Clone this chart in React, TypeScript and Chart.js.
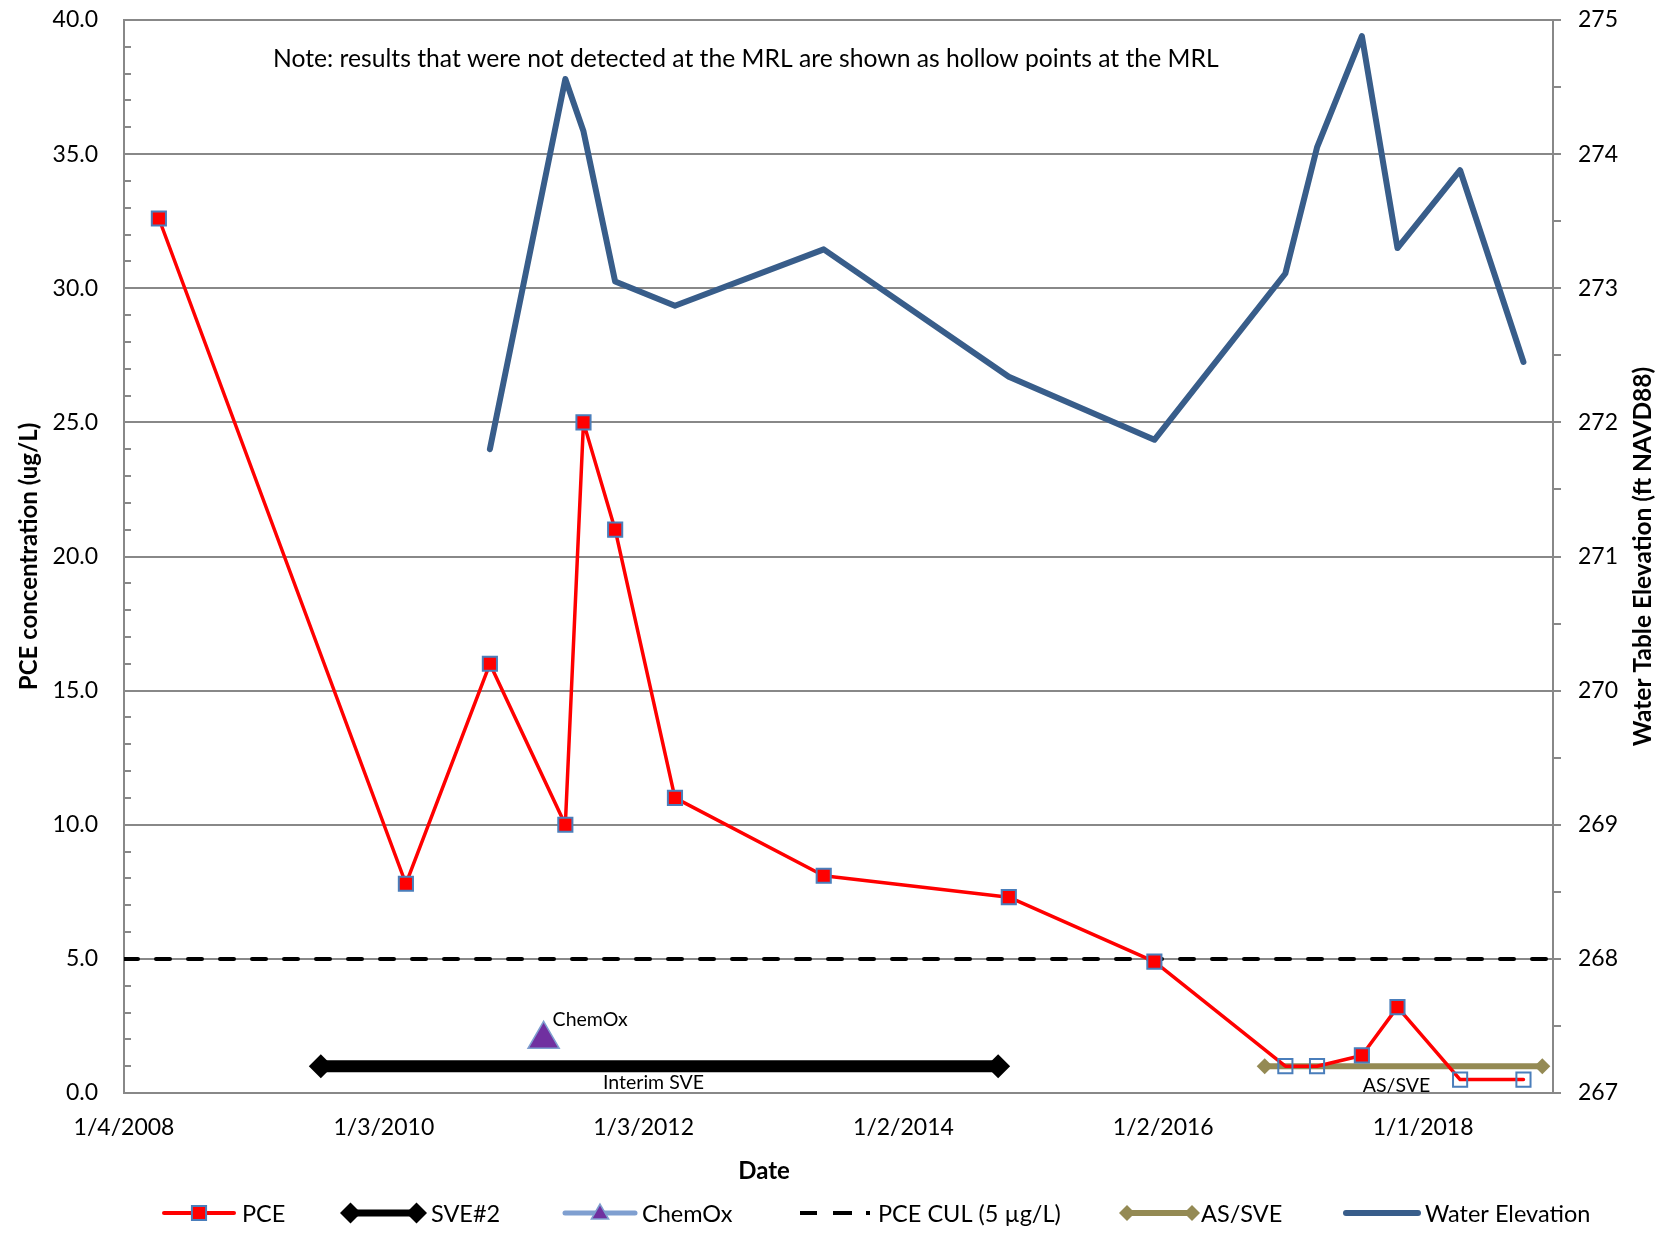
import React, { useEffect, useRef } from 'react';
import { Chart, registerables } from 'chart.js';
import { drawPoint } from 'chart.js/helpers';

Chart.register(...registerables);

// ---------------- data ----------------
const sampleDates = [
  '2008-04-11', '2010-03-06', '2010-10-28', '2011-05-28', '2011-07-18', '2011-10-15',
  '2012-03-31', '2013-05-23', '2014-10-25', '2015-12-08', '2016-12-10', '2017-03-09',
  '2017-07-13', '2017-10-21', '2018-04-15', '2018-10-10',
];
const pceValues = [32.6, 7.8, 16.0, 10.0, 25.0, 21.0, 11.0, 8.1, 7.3, 4.9, 1.0, 1.0, 1.4, 3.2, 0.5, 0.5];
const pceNonDetect = [false, false, false, false, false, false, false, false, false, false, true, true, false, false, true, true];
const waterElevation = [null, null, 271.80, 274.56, 274.17, 273.05, 272.87, 273.29, 272.34, 271.87, 273.11, 274.05, 274.88, 273.30, 273.88, 272.45];

const sveDates = ['2009-07-10', '2014-09-25'];
const sveValues = [1, 1];
const chemOxDates = ['2011-03-28'];
const chemOxValues = [2.0];
const culDates = ['2008-01-04', '2019-01-01'];
const culValues = [5, 5];
const asSveDates = ['2016-10-13', '2018-12-02'];
const asSveValues = [1, 1];

const xTickLabels = ['1/4/2008', '1/3/2010', '1/3/2012', '1/2/2014', '1/2/2016', '1/1/2018'];
const xAxisRange = ['2008-01-04', '2019-01-01'];
const leftAxisRange = [0, 40];
const rightAxisRange = [267, 275];

const NOTE_TEXT = 'Note: results that were not detected at the MRL are shown as hollow points at the MRL';
const LEFT_TITLE = 'PCE concentration (ug/L)';
const RIGHT_TITLE = 'Water Table Elevation (ft NAVD88)';
const X_TITLE = 'Date';
const SVE_LABEL = 'Interim SVE';
const CHEMOX_LABEL = 'ChemOx';
const ASSVE_LABEL = 'AS/SVE';

// ---------------- helpers ----------------
const DAY = 86400000;
const isoDay = (s: string) => {
  const [y, m, d] = s.split('-').map(Number);
  return Date.UTC(y, m - 1, d) / DAY;
};
const mdyDay = (s: string) => {
  const [m, d, y] = s.split('/').map(Number);
  return Date.UTC(y, m - 1, d) / DAY;
};
const pts = (dates: string[], vals: (number | null)[]) =>
  dates.map((d, i) => ({ x: isoDay(d), y: vals[i] })).filter((p) => p.y !== null);

// ---------------- styles ----------------
const FONT = 'Lato';
const GRID = '#888888';
const RED = '#FF0000';
const MARK_BORDER = '#4A7EBB';
const PURPLE = '#7030A0';
const CHEM_LINE = '#7F9FD0';
const OLIVE = '#948A54';
const WATER = '#385D8A';

const LEGEND_X = [164, 340, 565, 800, 1119, 1346];
const LEGEND_W = [70, 87, 70, 71, 81, 72];
const LEGEND_GAP = [8, 4, 7, 7, 1, 7];
const LEGEND_Y = 1213;

function legendLine(ctx: CanvasRenderingContext2D, xa: number, xb: number, y: number, color: string, width: number, cap: CanvasLineCap = 'round') {
  ctx.save();
  ctx.strokeStyle = color;
  ctx.lineWidth = width;
  ctx.lineCap = cap;
  ctx.beginPath();
  ctx.moveTo(xa, y);
  ctx.lineTo(xb, y);
  ctx.stroke();
  ctx.restore();
}

function marker(ctx: CanvasRenderingContext2D, style: string, radius: number, x: number, y: number, fill: string, stroke: string, bw: number) {
  ctx.save();
  ctx.fillStyle = fill;
  ctx.strokeStyle = stroke;
  ctx.lineWidth = bw;
  drawPoint(ctx, { pointStyle: style as any, radius, borderWidth: bw, rotation: 0 } as any, x, y);
  ctx.restore();
}

const extrasPlugin = {
  id: 'excelExtras',
  beforeDatasetsDraw(chart: any) {
    const { ctx, chartArea: ca, scales } = chart;
    const y = scales.y;
    ctx.save();
    ctx.strokeStyle = GRID;
    ctx.lineWidth = 2;
    for (let v = y.min + 1; v < y.max; v += 1) {
      if (v % 5 === 0) continue;
      const py = Math.round(y.getPixelForValue(v));
      ctx.beginPath();
      ctx.moveTo(ca.left, py);
      ctx.lineTo(ca.left + 7, py);
      ctx.stroke();
    }
    ctx.restore();
  },
  afterDraw(chart: any) {
    const { ctx, chartArea: ca } = chart;
    ctx.save();
    ctx.fillStyle = '#000';
    ctx.textBaseline = 'middle';

    // note
    ctx.font = `24.7px ${FONT}`;
    ctx.textAlign = 'left';
    ctx.fillText(NOTE_TEXT, ca.left + 149, ca.top + 39);

    // annotation labels tied to the marks
    ctx.font = `19.5px ${FONT}`;
    const chem = chart.getDatasetMeta(2).data[0];
    ctx.textAlign = 'left';
    ctx.fillText(CHEMOX_LABEL, chem.x + 9, chem.y - 20);
    const sve = chart.getDatasetMeta(1).data;
    ctx.textAlign = 'center';
    ctx.fillText(SVE_LABEL, (sve[0].x + sve[1].x) / 2 - 6, sve[0].y + 17);
    const as = chart.getDatasetMeta(4).data;
    ctx.fillText(ASSVE_LABEL, (as[0].x + as[1].x) / 2 - 7, as[0].y + 20);

    // x title
    ctx.font = `bold 24px ${FONT}`;
    ctx.textAlign = 'center';
    ctx.fillText(X_TITLE, ca.left + 640, ca.bottom + 78);

    // right title (reads bottom to top)
    ctx.font = `bold 24.5px ${FONT}`;
    ctx.save();
    ctx.translate(ca.right + 90, (ca.top + ca.bottom) / 2);
    ctx.rotate(-Math.PI / 2);
    ctx.fillText(RIGHT_TITLE, 0, 0);
    ctx.restore();

    // legend
    const ds = chart.data.datasets;
    const y = LEGEND_Y;
    ds.forEach((d: any, i: number) => {
      const x0 = LEGEND_X[i];
      const w = LEGEND_W[i];
      if (i === 0) {
        legendLine(ctx, x0, x0 + w, y, RED, 4);
        marker(ctx, 'rect', 10, x0 + w / 2, y, RED, MARK_BORDER, 2);
      } else if (i === 1) {
        legendLine(ctx, x0 + 10.5, x0 + w - 10.5, y, '#000', 7, 'butt');
        marker(ctx, 'rectRot', 10.5, x0 + 10.5, y, '#000', '#000', 0);
        marker(ctx, 'rectRot', 10.5, x0 + w - 10.5, y, '#000', '#000', 0);
      } else if (i === 2) {
        legendLine(ctx, x0, x0 + w, y, CHEM_LINE, 5);
        marker(ctx, 'triangle', 10, x0 + w / 2, y + 1, PURPLE, CHEM_LINE, 1.5);
      } else if (i === 3) {
        legendLine(ctx, x0, x0 + 17, y, '#000', 4, 'butt');
        legendLine(ctx, x0 + 33, x0 + 52, y, '#000', 4, 'butt');
        legendLine(ctx, x0 + 66, x0 + 70, y, '#000', 4, 'butt');
      } else if (i === 4) {
        legendLine(ctx, x0 + 8, x0 + w - 8, y, OLIVE, 6, 'butt');
        marker(ctx, 'rectRot', 8, x0 + 8, y, OLIVE, OLIVE, 0);
        marker(ctx, 'rectRot', 8, x0 + w - 8, y, OLIVE, OLIVE, 0);
      } else {
        legendLine(ctx, x0, x0 + w, y, WATER, 6);
      }
      ctx.fillStyle = '#000';
      ctx.font = `23.5px ${FONT}`;
      ctx.textAlign = 'left';
      ctx.textBaseline = 'middle';
      ctx.fillText(d.label, x0 + w + LEGEND_GAP[i], y + 1);
    });
    ctx.restore();
  },
};

function buildConfig(): any {
  const tickFont = { family: FONT, size: 23 };
  return {
    type: 'line',
    data: {
      datasets: [
        {
          label: 'PCE',
          data: pts(sampleDates, pceValues),
          yAxisID: 'y',
          borderColor: RED,
          borderWidth: 3.5,
          borderJoinStyle: 'round',
          borderCapStyle: 'round',
          pointStyle: 'rect',
          pointRadius: 10,
          pointBorderWidth: 2,
          pointBorderColor: MARK_BORDER,
          pointBackgroundColor: pceNonDetect.map((n) => (n ? 'rgba(0,0,0,0)' : RED)),
          tension: 0,
          clip: false,
        },
        {
          label: 'SVE#2',
          data: pts(sveDates, sveValues),
          yAxisID: 'y',
          borderColor: '#000',
          borderWidth: 12,
          pointStyle: 'rectRot',
          pointRadius: 12,
          pointBackgroundColor: '#000',
          pointBorderColor: '#000',
          pointBorderWidth: 0,
          clip: false,
        },
        {
          label: 'ChemOx',
          data: pts(chemOxDates, chemOxValues),
          yAxisID: 'y',
          showLine: false,
          borderColor: CHEM_LINE,
          pointStyle: 'triangle',
          pointRadius: 18,
          pointBackgroundColor: PURPLE,
          pointBorderColor: CHEM_LINE,
          pointBorderWidth: 1.5,
          clip: false,
        },
        {
          label: 'PCE CUL (5 µg/L)',
          data: pts(culDates, culValues),
          yAxisID: 'y',
          borderColor: '#000',
          borderWidth: 4,
          borderDash: [14, 18],
          borderCapStyle: 'round',
          pointRadius: 0,
        },
        {
          label: 'AS/SVE',
          data: pts(asSveDates, asSveValues),
          yAxisID: 'y',
          borderColor: OLIVE,
          borderWidth: 6,
          pointStyle: 'rectRot',
          pointRadius: 8,
          pointBackgroundColor: OLIVE,
          pointBorderColor: OLIVE,
          pointBorderWidth: 0,
          clip: false,
        },
        {
          label: 'Water Elevation',
          data: pts(sampleDates, waterElevation),
          yAxisID: 'y2',
          borderColor: WATER,
          borderWidth: 6,
          borderJoinStyle: 'round',
          borderCapStyle: 'round',
          pointRadius: 0,
          clip: false,
        },
      ],
    },
    options: {
      responsive: false,
      animation: false,
      events: [],
      layout: { autoPadding: false, padding: { top: 20, left: 0, right: 0, bottom: 0 } },
      plugins: {
        legend: { display: false },
        tooltip: { enabled: false },
      },
      scales: {
        x: {
          type: 'linear',
          position: 'bottom',
          min: isoDay(xAxisRange[0]),
          max: isoDay(xAxisRange[1]),
          afterBuildTicks: (s: any) => {
            s.ticks = xTickLabels.map((l) => ({ value: mdyDay(l) }));
          },
          afterFit: (s: any) => {
            s.height = 148;
          },
          grid: { display: false, drawTicks: false },
          border: { display: true, color: GRID, width: 2 },
          ticks: {
            autoSkip: false,
            maxRotation: 0,
            minRotation: 0,
            padding: 21,
            color: '#000',
            font: tickFont,
            callback: (_v: any, i: number) => xTickLabels[i],
          },
        },
        y: {
          position: 'left',
          min: leftAxisRange[0],
          max: leftAxisRange[1],
          afterFit: (s: any) => {
            s.width = 124;
            s.paddingTop = 0;
            s.paddingBottom = 0;
          },
          ticks: {
            stepSize: 5,
            padding: 26,
            color: '#000',
            font: tickFont,
            callback: (v: any) => Number(v).toFixed(1),
          },
          grid: { color: GRID, lineWidth: 2, drawTicks: false },
          border: { color: GRID, width: 2 },
          title: {
            display: true,
            text: LEFT_TITLE,
            color: '#000',
            font: { family: FONT, size: 24, weight: 'bold' },
            padding: { top: 15, bottom: 0 },
          },
        },
        y2: {
          position: 'right',
          min: rightAxisRange[0],
          max: rightAxisRange[1],
          afterFit: (s: any) => {
            s.width = 116;
            s.paddingTop = 0;
            s.paddingBottom = 0;
          },
          ticks: {
            stepSize: 0.5,
            autoSkip: false,
            padding: 17,
            color: '#000',
            font: tickFont,
            callback: (v: any) => (Number.isInteger(Number(v)) ? String(v) : ''),
          },
          grid: { drawOnChartArea: false, drawTicks: true, tickLength: 8, color: GRID, lineWidth: 2 },
          border: { color: GRID, width: 2 },
        },
      },
    },
    plugins: [extrasPlugin],
  };
}

export default function App() {
  const ref = useRef<HTMLCanvasElement>(null);
  useEffect(() => {
    let chart: Chart | null = null;
    let cancelled = false;
    const make = () => {
      if (cancelled || !ref.current) return;
      chart = new Chart(ref.current, buildConfig());
    };
    const fonts = (document as any).fonts;
    if (fonts && fonts.load) {
      Promise.all([fonts.load(`23px ${FONT}`), fonts.load(`bold 24px ${FONT}`)]).then(make, make);
    } else {
      make();
    }
    return () => {
      cancelled = true;
      if (chart) chart.destroy();
    };
  }, []);
  return (
    <div style={{ position: 'fixed', left: 0, top: 0, width: 1669, height: 1241, background: '#fff' }}>
      <canvas ref={ref} width={1669} height={1241} style={{ display: 'block', width: 1669, height: 1241 }} />
    </div>
  );
}
